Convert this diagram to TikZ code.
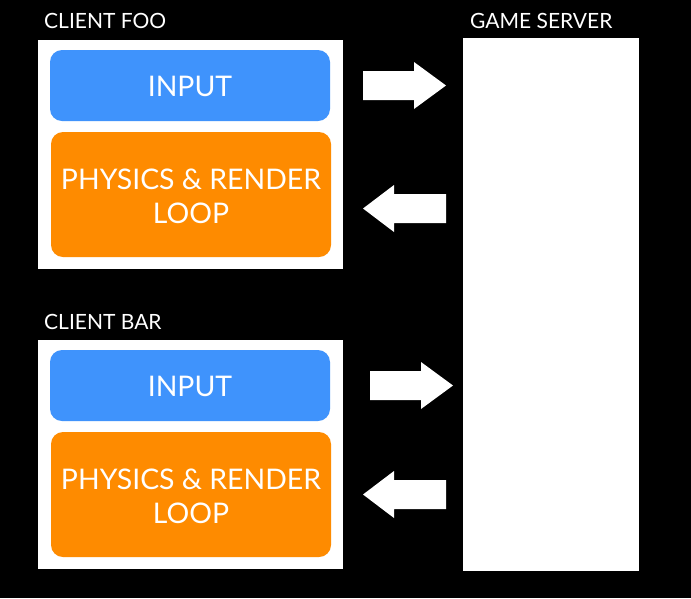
\documentclass[tikz,border=0pt]{standalone}
\usepackage{fontspec}
\setmainfont{Lato}
\definecolor{inblue}{HTML}{3F93FC}
\definecolor{physorange}{HTML}{FE8B00}
\tikzset{
  panel/.style={fill=white,draw=none},
  inputbox/.style={fill=inblue,draw=none,rounded corners=12pt},
  physbox/.style={fill=physorange,draw=none,rounded corners=12pt},
  bigtext/.style={text=white,font=\fontsize{28.4}{34}\selectfont,align=center},
  labeltext/.style={text=white,font=\fontsize{21}{24}\selectfont,anchor=base west,inner sep=0pt},
  blockarrow/.style={fill=white,draw=none}
}
\begin{document}
\begin{tikzpicture}[x=1pt,y=-1pt]
\fill[black] (0,0) rectangle (691,598);
\useasboundingbox (0,0) rectangle (691,598);
% server
\fill[panel] (463,38) rectangle (639,571);
\node[labeltext] (lsrv) at (470,28) {GAME SERVER};
% client foo
\fill[panel] (38,40) rectangle (343,269);
\node[labeltext] (lfoo) at (44,28) {CLIENT FOO};
\fill[inputbox] (50,50) rectangle (330,121);
\node[bigtext] (in1) at (190,86) {INPUT};
\fill[physbox] (51,132) rectangle (331,257);
\node[bigtext] (ph1) at (191,196) {PHYSICS \& RENDER\\LOOP};
% client bar
\fill[panel] (38,340) rectangle (343,569);
\node[labeltext] (lbar) at (44,329) {CLIENT BAR};
\fill[inputbox] (50,350) rectangle (330,421);
\node[bigtext] (in2) at (190,386) {INPUT};
\fill[physbox] (51,432) rectangle (331,557);
\node[bigtext] (ph2) at (191,496) {PHYSICS \& RENDER\\LOOP};
% arrows
\fill[blockarrow] (363,71) -- (414,71) -- (414,62) -- (446,85.5) -- (414,109) -- (414,100) -- (363,100) -- cycle;
\fill[blockarrow] (446,194) -- (394,194) -- (394,185) -- (363,208.5) -- (394,232) -- (394,223) -- (446,223) -- cycle;
\fill[blockarrow] (370,371) -- (421,371) -- (421,362) -- (453,385.5) -- (421,409) -- (421,400) -- (370,400) -- cycle;
\fill[blockarrow] (446,480) -- (394,480) -- (394,471) -- (363,494.5) -- (394,518) -- (394,509) -- (446,509) -- cycle;
\end{tikzpicture}
\end{document}
